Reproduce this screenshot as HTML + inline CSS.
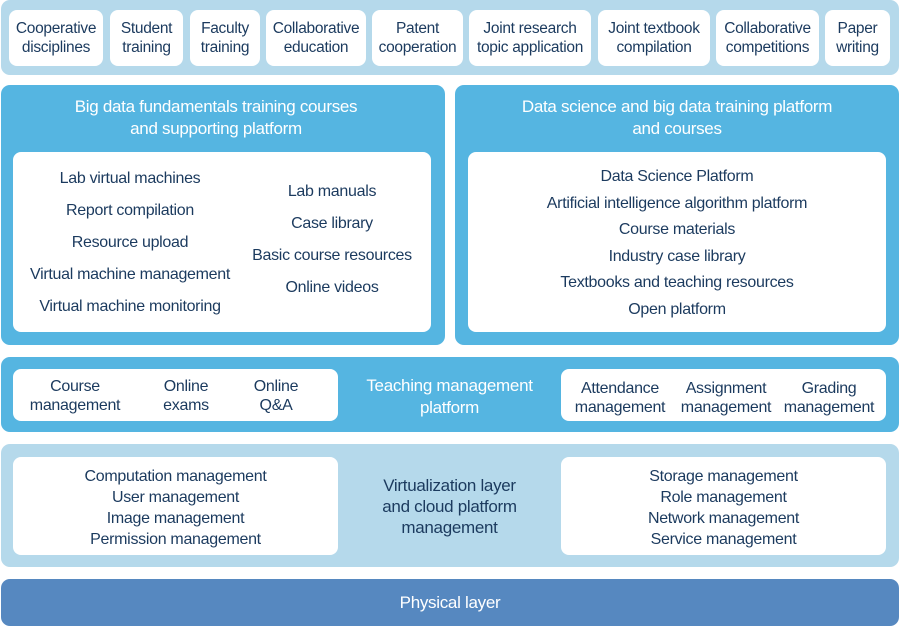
<!DOCTYPE html>
<html><head><meta charset="utf-8"><style>
*{margin:0;padding:0;box-sizing:border-box}
body{width:900px;height:628px;background:#fff;position:relative;overflow:hidden;font-family:"Liberation Sans",sans-serif;color:#1b3a5e;font-size:16px;letter-spacing:-0.3px}
.a{position:absolute}
.band{background:#b5d9eb;border-radius:9px}
.mid{background:#55b5e1;border-radius:9px}
.w{background:#fff;border-radius:8px}
.c{display:flex;align-items:center;justify-content:center;text-align:center;line-height:19px}
.top{font-size:15.5px}
.t{position:absolute;text-align:center;line-height:19px;white-space:nowrap}
.wt{color:#fff;font-size:17px;line-height:22px}
</style></head><body>
<div class="a band" style="left:1px;top:0;width:898px;height:75px"></div>
<div class="a w c top" style="left:9px;top:10px;width:94px;height:56px">Cooperative<br>disciplines</div>
<div class="a w c top" style="left:110px;top:10px;width:73px;height:56px">Student<br>training</div>
<div class="a w c top" style="left:190px;top:10px;width:70px;height:56px">Faculty<br>training</div>
<div class="a w c top" style="left:266px;top:10px;width:100px;height:56px">Collaborative<br>education</div>
<div class="a w c top" style="left:372px;top:10px;width:91px;height:56px">Patent<br>cooperation</div>
<div class="a w c top" style="left:469px;top:10px;width:122px;height:56px">Joint research<br>topic application</div>
<div class="a w c top" style="left:598px;top:10px;width:112px;height:56px">Joint textbook<br>compilation</div>
<div class="a w c top" style="left:716px;top:10px;width:103px;height:56px">Collaborative<br>competitions</div>
<div class="a w c top" style="left:825px;top:10px;width:65px;height:56px">Paper<br>writing</div>

<div class="a mid" style="left:1px;top:85px;width:444px;height:260px"></div>
<div class="t wt" style="left:1px;top:96px;width:430px">Big data fundamentals training courses<br>and supporting platform</div>
<div class="a w" style="left:13px;top:152px;width:418px;height:180px"></div>
<div class="t" style="left:20px;top:169px;width:220px">Lab virtual machines</div>
<div class="t" style="left:20px;top:201px;width:220px">Report compilation</div>
<div class="t" style="left:20px;top:233px;width:220px">Resource upload</div>
<div class="t" style="left:20px;top:265px;width:220px">Virtual machine management</div>
<div class="t" style="left:20px;top:297px;width:220px">Virtual machine monitoring</div>
<div class="t" style="left:232px;top:182px;width:200px">Lab manuals</div>
<div class="t" style="left:232px;top:214px;width:200px">Case library</div>
<div class="t" style="left:232px;top:246px;width:200px">Basic course resources</div>
<div class="t" style="left:232px;top:278px;width:200px">Online videos</div>

<div class="a mid" style="left:455px;top:85px;width:444px;height:260px"></div>
<div class="t wt" style="left:455px;top:96px;width:444px">Data science and big data training platform<br>and courses</div>
<div class="a w" style="left:468px;top:152px;width:418px;height:180px"></div>
<div class="t" style="left:468px;top:167px;width:418px">Data Science Platform</div>
<div class="t" style="left:468px;top:194px;width:418px">Artificial intelligence algorithm platform</div>
<div class="t" style="left:468px;top:220px;width:418px">Course materials</div>
<div class="t" style="left:468px;top:247px;width:418px">Industry case library</div>
<div class="t" style="left:468px;top:273px;width:418px">Textbooks and teaching resources</div>
<div class="t" style="left:468px;top:300px;width:418px">Open platform</div>

<div class="a mid" style="left:1px;top:357px;width:898px;height:75px"></div>
<div class="a w" style="left:13px;top:369px;width:325px;height:52px"></div>
<div class="t" style="left:20px;top:377px;width:110px">Course<br>management</div>
<div class="t" style="left:146px;top:377px;width:80px">Online<br>exams</div>
<div class="t" style="left:236px;top:377px;width:80px">Online<br>Q&amp;A</div>
<div class="t wt" style="left:338px;top:375px;width:223px">Teaching management<br>platform</div>
<div class="a w" style="left:561px;top:369px;width:325px;height:52px"></div>
<div class="t" style="left:565px;top:379px;width:110px">Attendance<br>management</div>
<div class="t" style="left:671px;top:379px;width:110px">Assignment<br>management</div>
<div class="t" style="left:774px;top:379px;width:110px">Grading<br>management</div>

<div class="a band" style="left:1px;top:444px;width:898px;height:123px"></div>
<div class="a w" style="left:13px;top:457px;width:325px;height:98px"></div>
<div class="t" style="left:13px;top:466px;width:325px;line-height:21px">Computation management<br>User management<br>Image management<br>Permission management</div>
<div class="t" style="left:338px;top:475px;width:223px;font-size:17px;line-height:21px">Virtualization layer<br>and cloud platform<br>management</div>
<div class="a w" style="left:561px;top:457px;width:325px;height:98px"></div>
<div class="t" style="left:561px;top:466px;width:325px;line-height:21px">Storage management<br>Role management<br>Network management<br>Service management</div>

<div class="a c" style="left:1px;top:579px;width:898px;height:47px;background:#5688c0;border-radius:9px;color:#fff;font-size:17px">Physical layer</div>
</body></html>
